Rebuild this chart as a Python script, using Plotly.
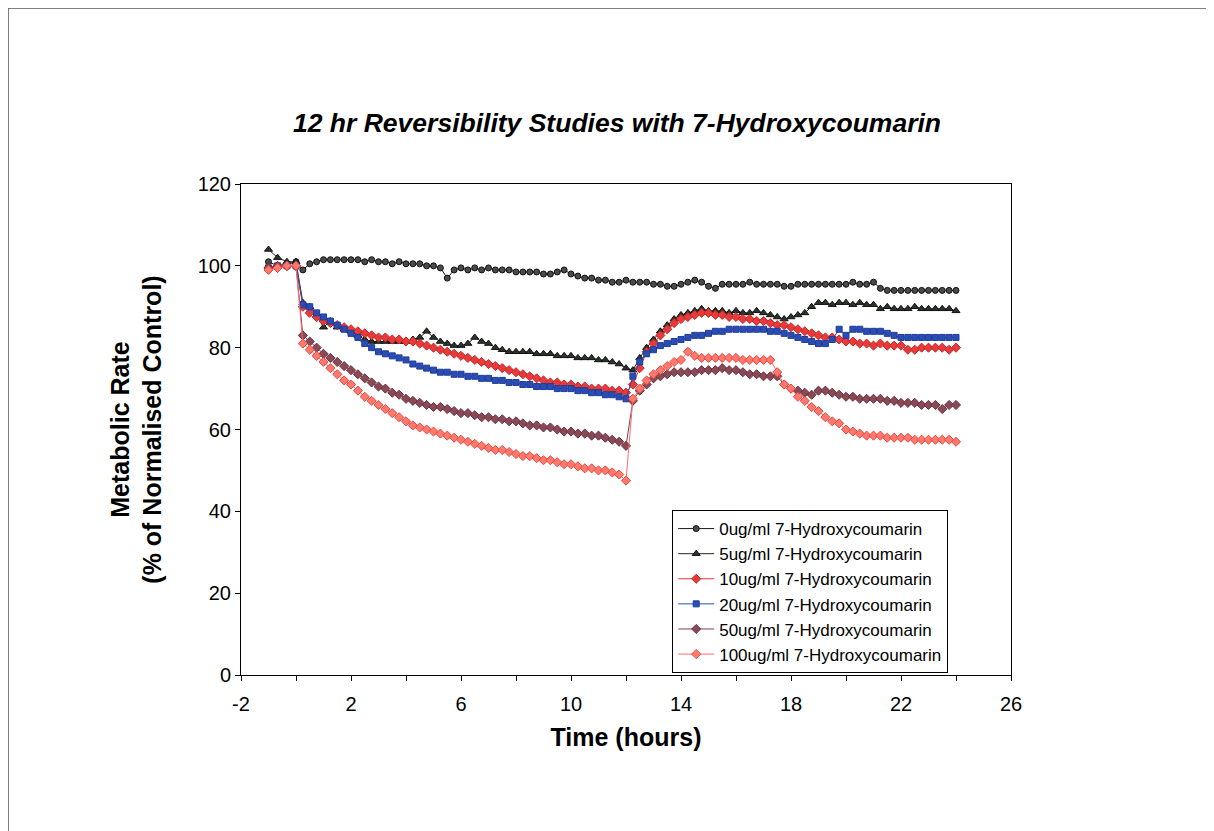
import plotly.graph_objects as go

# sampling times: 3 pre-dose readings, then every 15 min up to 24 h
pre_times = [-1, -0.67, -0.33, 0]
times = pre_times + [q / 4 for q in range(1, 97)]

conc_0 = [101, 100, 100.5, 101,
          99, 100.5, 101, 101.5, 101.5, 101.5, 101.5, 101.5,
          101.5, 101, 101.5, 101, 101, 100.5, 101, 100.5,
          100.5, 100.5, 100, 100, 99.5, 97, 99, 99.5,
          99, 99.5, 99, 99.5, 99, 99, 99, 98.5,
          98.5, 98.5, 98.5, 98, 98, 98.5, 99, 98,
          97.5, 97, 97, 96.5, 96.5, 96, 96, 96.5,
          96, 96, 96, 95.5, 95.5, 95, 95, 95.5,
          96, 96.5, 96, 95, 94.5, 95.5, 95.5, 95.5,
          95.5, 96, 95.5, 95.5, 95.5, 95.5, 95, 95,
          95.5, 95.5, 95.5, 95.5, 95.5, 95.5, 95.5, 95.5,
          96, 95.5, 95.5, 96, 94.5, 94, 94, 94,
          94, 94, 94, 94, 94, 94, 94, 94]

conc_5 = [104, 102, 101, 101,
          91, 90, 88, 85, 86.5, 85, 84.5, 84,
          83, 82, 81.5, 81.5, 81.5, 81.5, 81.5, 81.5,
          82, 82.5, 84, 82.5, 81.5, 81, 80.5, 80.5,
          81, 82.5, 81.5, 81, 80, 79.5, 79, 79,
          79, 79, 78.5, 78.5, 78.5, 78, 78, 78,
          77.5, 77.5, 77.5, 77, 77, 76.5, 76, 75,
          74.5, 77.5, 80, 82, 84, 85.5, 87, 88,
          88.5, 89, 89.5, 89, 89, 89, 88.5, 89,
          88.5, 88.5, 89, 88.5, 88, 87.5, 87, 87.5,
          88, 88.5, 90, 91, 91, 90.5, 91, 91,
          90.5, 91, 90.5, 90.5, 89.5, 90, 89.5, 89.5,
          89.5, 90, 89.5, 89.5, 89.5, 89.5, 89.5, 89]

conc_10 = [99.5, 99.5, 100, 100,
           90, 88.5, 87.5, 86.5, 86, 85.5, 85, 84.5,
           84, 83.5, 83, 82.5, 82.5, 82, 82, 81.5,
           81.5, 81, 80.5, 80, 79.5, 79, 78.5, 78,
           77.5, 77, 76.5, 76, 75.5, 75, 74.5, 74,
           73.5, 73, 72.5, 72, 71.5, 71.5, 71, 71,
           70.5, 70.5, 70, 70, 70, 69.5, 69.5, 69,
           71, 75, 79, 81, 83, 84.5, 86, 87,
           87.5, 88, 88.5, 88.5, 88, 88, 87.5, 87.5,
           87, 87, 86.5, 86.5, 86, 85.5, 85.5, 85,
           84.5, 84, 83.5, 83, 82.5, 82.5, 82, 81.5,
           81.5, 81, 81, 80.5, 81, 80.5, 80.5, 80.5,
           79.5, 79.5, 80, 80, 80, 80, 79.5, 80]

conc_20 = [99.5, 100, 100, 100,
           90.5, 90, 88.5, 87.5, 86.5, 85.5, 84.5, 83.5,
           82.5, 81, 80, 79, 78.5, 78, 77.5, 77,
           76, 75.5, 75, 74.5, 74, 74, 73.5, 73.5,
           73, 73, 72.5, 72.5, 72, 72, 71.5, 71.5,
           71, 71, 70.5, 70.5, 70.5, 70, 70, 70,
           69.5, 69.5, 69, 69, 68.5, 68.5, 68, 67.5,
           73, 76.5, 78.5, 79.5, 80.5, 81, 81.5, 82,
           82.5, 83, 83, 83.5, 84, 84, 84.5, 84.5,
           84.5, 84.5, 84.5, 84.5, 84, 84, 83.5, 83,
           82.5, 82, 81.5, 81, 81, 82, 84.5, 83,
           84.5, 84.5, 84, 84, 84, 83.5, 83, 82.5,
           82.5, 82.5, 82.5, 82.5, 82.5, 82.5, 82.5, 82.5]

conc_50 = [99.5, 100, 100, 100,
           83, 81.5, 80, 78.5, 77.5, 76.5, 75.5, 74.5,
           73.5, 72.5, 71.5, 70.5, 70, 69, 68.5, 67.5,
           67, 66.5, 66, 65.5, 65.5, 65, 64.5, 64,
           64, 63.5, 63, 63, 62.5, 62.5, 62, 62,
           61.5, 61, 61, 60.5, 60.5, 60, 59.5, 59.5,
           59, 59, 58.5, 58.5, 58, 57.5, 57, 56,
           67, 69.5, 71, 72.5, 73, 73.5, 74, 74,
           74, 74, 74.5, 74.5, 74.5, 75, 74.5, 74.5,
           74, 73.5, 73.5, 73, 73, 73, 71, 70,
           69.5, 69, 68.5, 69.5, 69.5, 69, 68.5, 68,
           68, 67.5, 67.5, 67.5, 67.5, 67, 67, 66.5,
           66.5, 66.5, 66, 66, 66, 65, 66, 66]

conc_100 = [99, 99.5, 100, 100,
            81, 79.5, 78, 76.5, 75, 73.5, 72, 71,
            69.5, 68, 67, 66, 65, 64, 63, 62,
            61, 60.5, 60, 59.5, 59, 58.5, 58, 57.5,
            57, 56.5, 56, 55.5, 55, 55, 54.5, 54,
            53.5, 53.5, 53, 52.5, 52.5, 52, 51.5, 51.5,
            51, 50.5, 50.5, 50, 50, 49.5, 49, 47.5,
            67.5, 70, 72, 73.5, 74.5, 75.5, 76.5, 77,
            79, 78, 77.5, 77.5, 77.5, 77.5, 77.5, 77.5,
            77, 77, 77, 77, 77, 74, 71, 70,
            68, 67, 65.5, 64.5, 63, 62, 61.5, 60,
            59.5, 59, 58.5, 58.5, 58.5, 58, 58, 58,
            58, 57.5, 57.5, 57.5, 57.5, 57.5, 57.5, 57]

series_names = ["0ug/ml 7-Hydroxycoumarin", "5ug/ml 7-Hydroxycoumarin",
                "10ug/ml 7-Hydroxycoumarin", "20ug/ml 7-Hydroxycoumarin",
                "50ug/ml 7-Hydroxycoumarin", "100ug/ml 7-Hydroxycoumarin"]
series_values = [conc_0, conc_5, conc_10, conc_20, conc_50, conc_100]

x_tickvals = [-2, 0, 2, 4, 6, 8, 10, 12, 14, 16, 18, 20, 22, 24, 26]
x_ticktext = ["-2", "", "2", "", "6", "", "10", "", "14", "", "18", "", "22", "", "26"]
y_tickvals = [0, 20, 40, 60, 80, 100, 120]

styles = [
    dict(line="#1a1a1a", symbol="circle", fill="#4a4a4a", edge="#111111", size=6),
    dict(line="#1f2a1f", symbol="triangle-up", fill="#2a352a", edge="#111111", size=7),
    dict(line="#e83a3a", symbol="diamond", fill="#e83a3a", edge="#c82828", size=7),
    dict(line="#2a4db5", symbol="square", fill="#2a4db5", edge="#1f3c9a", size=6),
    dict(line="#7e4050", symbol="diamond", fill="#8a4a55", edge="#6e3040", size=7),
    dict(line="#ff6a6a", symbol="diamond", fill="#ff7a6a", edge="#f04545", size=7),
]

FONT = "Liberation Sans, Arial, sans-serif"

fig = go.Figure()
for name, vals, st in zip(series_names, series_values, styles):
    fig.add_trace(go.Scatter(
        x=times, y=vals, name=name, mode="lines+markers",
        legendgroup=name,
        line=dict(color=st["line"], width=1),
        marker=dict(symbol=st["symbol"], size=st["size"], color=st["fill"],
                    line=dict(color=st["edge"], width=1)),
    ))

fig.update_layout(
    width=1206, height=823,
    paper_bgcolor="white", plot_bgcolor="white",
    margin=dict(l=233, r=203, t=176, b=156),
    font=dict(family=FONT, color="black"),
    title=dict(text="<b><i>12 hr Reversibility Studies with 7-Hydroxycoumarin</i></b>",
               x=0.505, xanchor="center", y=0.860, yanchor="middle",
               yref="container", font=dict(size=26.5, family=FONT)),
    legend=dict(x=0.56, y=0.336, xanchor="left", yanchor="top",
                bordercolor="black", borderwidth=1, bgcolor="white",
                font=dict(size=17, family=FONT), tracegroupgap=0,
                traceorder="grouped", itemwidth=36),
    showlegend=True,
)

fig.update_xaxes(
    range=[-2, 26], tickvals=x_tickvals, ticktext=x_ticktext,
    ticks="outside", ticklen=5, tickcolor="black",
    showline=True, linecolor="black", linewidth=1, mirror=True,
    showgrid=False, zeroline=False, ticklabelstandoff=6,
    tickfont=dict(size=20, family=FONT),
    title=dict(text="<b>Time (hours)</b>", font=dict(size=25, family=FONT), standoff=14),
)
fig.update_yaxes(
    range=[0, 120], tickvals=y_tickvals,
    ticks="outside", ticklen=5, tickcolor="black",
    showline=True, linecolor="black", linewidth=1, mirror=True,
    showgrid=False, zeroline=False,
    tickfont=dict(size=20, family=FONT),
    title=dict(text="<b>Metabolic Rate<br>(% of Normalised Control)</b>",
               font=dict(size=25, family=FONT), standoff=28),
)

# thin outer frame of the original page
fig.add_shape(type="rect", xref="paper", yref="paper",
              x0=-0.3026, x1=1.258, y0=-0.34, y1=1.3585,
              line=dict(color="#555555", width=1.5), layer="below")

fig.write_html("out.html")
